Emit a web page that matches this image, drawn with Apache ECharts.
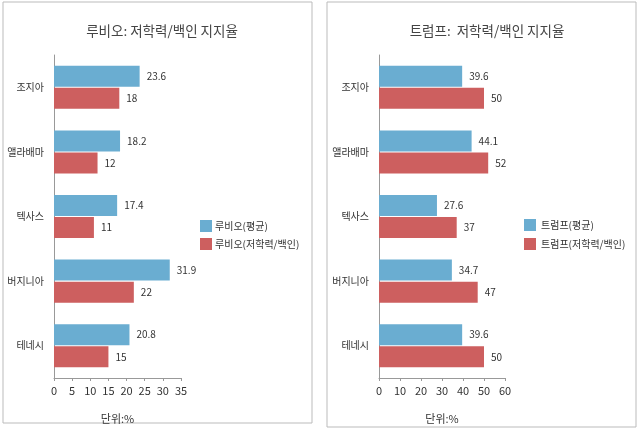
<!DOCTYPE html>
<html><head><meta charset="utf-8">
<script src="https://cdn.jsdelivr.net/npm/echarts@6/dist/echarts.min.js"></script>
<style>html,body{margin:0;padding:0;background:#fff}#c{width:640px;height:430px}</style>
</head><body><div id="c"></div>
<script>
const categories = ['조지아', '앨라배마', '텍사스', '버지니아', '테네시'];
const rubioAvg = [23.6, 18.2, 17.4, 31.9, 20.8];
const rubioLow = [18, 12, 11, 22, 15];
const trumpAvg = [39.6, 44.1, 27.6, 34.7, 39.6];
const trumpLow = [50, 52, 37, 47, 50];
const titles = ['루비오: 저학력/백인 지지율', '트럼프:  저학력/백인 지지율'];
const seriesNames = [['루비오(평균)', '루비오(저학력/백인)'], ['트럼프(평균)', '트럼프(저학력/백인)']];
const axisName = '단위:%';

const BLUE = '#6AADD1', RED = '#CD5F5F';
const FONT = '"Noto Sans CJK KR", "Noto Sans", sans-serif';
const chart = echarts.init(document.getElementById('c'), null, {renderer: 'canvas'});

function xAx(idx, max, interval) {
  return {
    type: 'value', gridIndex: idx, min: 0, max: max, interval: interval,
    splitLine: {show: false},
    axisLine: {show: true, lineStyle: {color: '#999'}},
    axisTick: {show: true, length: 3, lineStyle: {color: '#999'}},
    axisLabel: {color: '#333', fontSize: 11, margin: 7, fontFamily: FONT},
    name: axisName, nameLocation: 'middle', nameGap: 35,
    nameTextStyle: {color: '#333', fontSize: 11, fontFamily: FONT}
  };
}
function yAx(idx) {
  return {
    type: 'category', gridIndex: idx, data: categories, inverse: true,
    axisLine: {show: true, lineStyle: {color: '#999'}},
    axisTick: {show: false},
    axisLabel: {color: '#333', fontSize: 10, margin: 10, fontFamily: FONT}
  };
}
function bar(name, data, idx, color) {
  return {
    type: 'bar', name: name, data: data, xAxisIndex: idx, yAxisIndex: idx,
    barWidth: 21, barGap: '5%',
    itemStyle: {color: color},
    label: {show: true, position: 'right', distance: 7, color: '#333', fontSize: 10, fontFamily: FONT}
  };
}

chart.setOption({
  animation: false,
  backgroundColor: '#fff',
  textStyle: {fontFamily: FONT},
  graphic: [
    {type: 'rect', shape: {x: 3, y: 2, width: 309, height: 421}, style: {fill: 'none', stroke: '#bbb', lineWidth: 1}},
    {type: 'rect', shape: {x: 327, y: 2, width: 309, height: 425}, style: {fill: 'none', stroke: '#bbb', lineWidth: 1}}
  ],
  title: [
    {text: titles[0], left: 157, textAlign: 'center', top: 19, textStyle: {fontSize: 13.5, fontWeight: 'normal', color: '#444', fontFamily: FONT}},
    {text: titles[1], left: 482, textAlign: 'center', top: 19, textStyle: {fontSize: 13.5, fontWeight: 'normal', color: '#444', fontFamily: FONT}}
  ],
  legend: [
    {data: seriesNames[0], left: 200, top: 220, padding: 0, orient: 'vertical', itemWidth: 12, itemHeight: 12, itemGap: 6,
     icon: 'rect', textStyle: {fontSize: 10, color: '#333', fontFamily: FONT, padding: [0, 0, 0, -2]}},
    {data: seriesNames[1], left: 524, top: 219, padding: 0, orient: 'vertical', itemWidth: 12, itemHeight: 12, itemGap: 7,
     icon: 'rect', textStyle: {fontSize: 10, color: '#333', fontFamily: FONT}}
  ],
  grid: [
    {left: 54, top: 55, width: 127, height: 323},
    {left: 379, top: 55, width: 126, height: 323}
  ],
  xAxis: [xAx(0, 35, 5), xAx(1, 60, 10)],
  yAxis: [yAx(0), yAx(1)],
  series: [
    bar(seriesNames[0][0], rubioAvg, 0, BLUE),
    bar(seriesNames[0][1], rubioLow, 0, RED),
    bar(seriesNames[1][0], trumpAvg, 1, BLUE),
    bar(seriesNames[1][1], trumpLow, 1, RED)
  ]
});
</script></body></html>
